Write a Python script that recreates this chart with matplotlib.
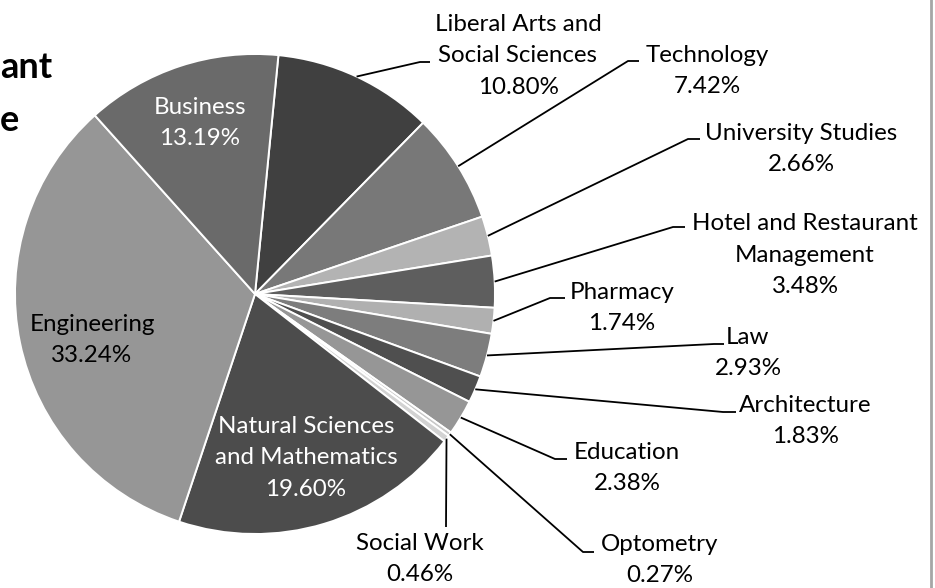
import numpy as np
import matplotlib
matplotlib.use("Agg")
import matplotlib.pyplot as plt

# ---- data ----
labels = ["Liberal Arts and\nSocial Sciences", "Technology", "University Studies",
          "Hotel and Restaurant\nManagement", "Pharmacy", "Law", "Architecture",
          "Education", "Optometry", "Social Work",
          "Natural Sciences\nand Mathematics", "Engineering", "Business"]
shares = [10.80, 7.42, 2.66, 3.48, 1.74, 2.93, 1.83, 2.38, 0.27, 0.46, 19.60, 33.24, 13.19]
greys = ["#404040", "#787878", "#b3b3b3", "#5e5e5e", "#b0b0b0", "#7d7d7d", "#4f4f4f",
         "#969696", "#c8c8c8", "#d2d2d2", "#4c4c4c", "#969696", "#6a6a6a"]

# ---- layout (pixel coords, y down) ----
CX, CY, R = 255, 294, 240
# label centre, leader elbow, leader end (None = label sits inside the slice)
layout = [
    ((518, 56), (420, 62), (430, 62)),
    ((707, 71), (628, 61), (639, 61)),
    ((801, 149), (688, 139), (700, 139)),
    ((805, 255), (673, 227), (685, 227)),
    ((622, 308), (550, 298), (565, 298)),
    ((748, 353), (714, 344), (724, 344)),
    ((805, 421), (723, 412), (736, 412)),
    ((627, 468), (555, 459), (567, 459)),
    ((660, 560), (583, 552), (594, 552)),
    ((420, 559), (446, 527), (446, 527)),
    ((306, 458), None, None),
    ((92, 340), None, None),
    ((200, 123), None, None),
]
inside_color = {10: "white", 11: "black", 12: "white"}

plt.rcParams["font.family"] = ["Lato", "DejaVu Sans"]
FS = 17.4

fig = plt.figure(figsize=(9.35, 5.88), dpi=100)
ax = fig.add_axes([0, 0, 1, 1])

# y axis is flipped below, so clockwise on screen is counterclockwise in data
wedges, _ = ax.pie(shares, colors=greys, startangle=-84.4, counterclock=True,
                   center=(CX, CY), radius=R,
                   wedgeprops=dict(edgecolor="white", linewidth=1.4))
ax.set_xlim(0, 935)
ax.set_ylim(588, 0)
ax.set_aspect("equal")
ax.axis("off")

for i, (w, lab, val) in enumerate(zip(wedges, labels, shares)):
    (tx, ty), elbow, end = layout[i]
    txt = f"{lab}\n{val:.2f}%"
    if elbow is None:
        ax.text(tx, ty, txt, ha="center", va="center", fontsize=FS,
                color=inside_color[i], linespacing=1.6)
        continue
    mid = np.deg2rad((w.theta1 + w.theta2) / 2)
    sx = w.center[0] + w.r * np.cos(mid)
    sy = w.center[1] + w.r * np.sin(mid)
    ax.plot([sx, elbow[0], end[0]], [sy, elbow[1], end[1]], color="black", lw=1.3,
            solid_capstyle="butt")
    ax.text(tx, ty, txt, ha="center", va="center", fontsize=FS, color="black",
            linespacing=1.6)

# title remnant (the rest is cropped away in the source)
ax.text(0, 78, "ant", ha="left", va="baseline", fontsize=26, fontweight="bold",
        color="black")
ax.text(0, 131, "e", ha="left", va="baseline", fontsize=26, fontweight="bold",
        color="black")

# chart border on the right
ax.plot([931, 931], [0, 588], color="#a6a6a6", lw=2.0, clip_on=False)

fig.savefig("out.png", dpi=100)
